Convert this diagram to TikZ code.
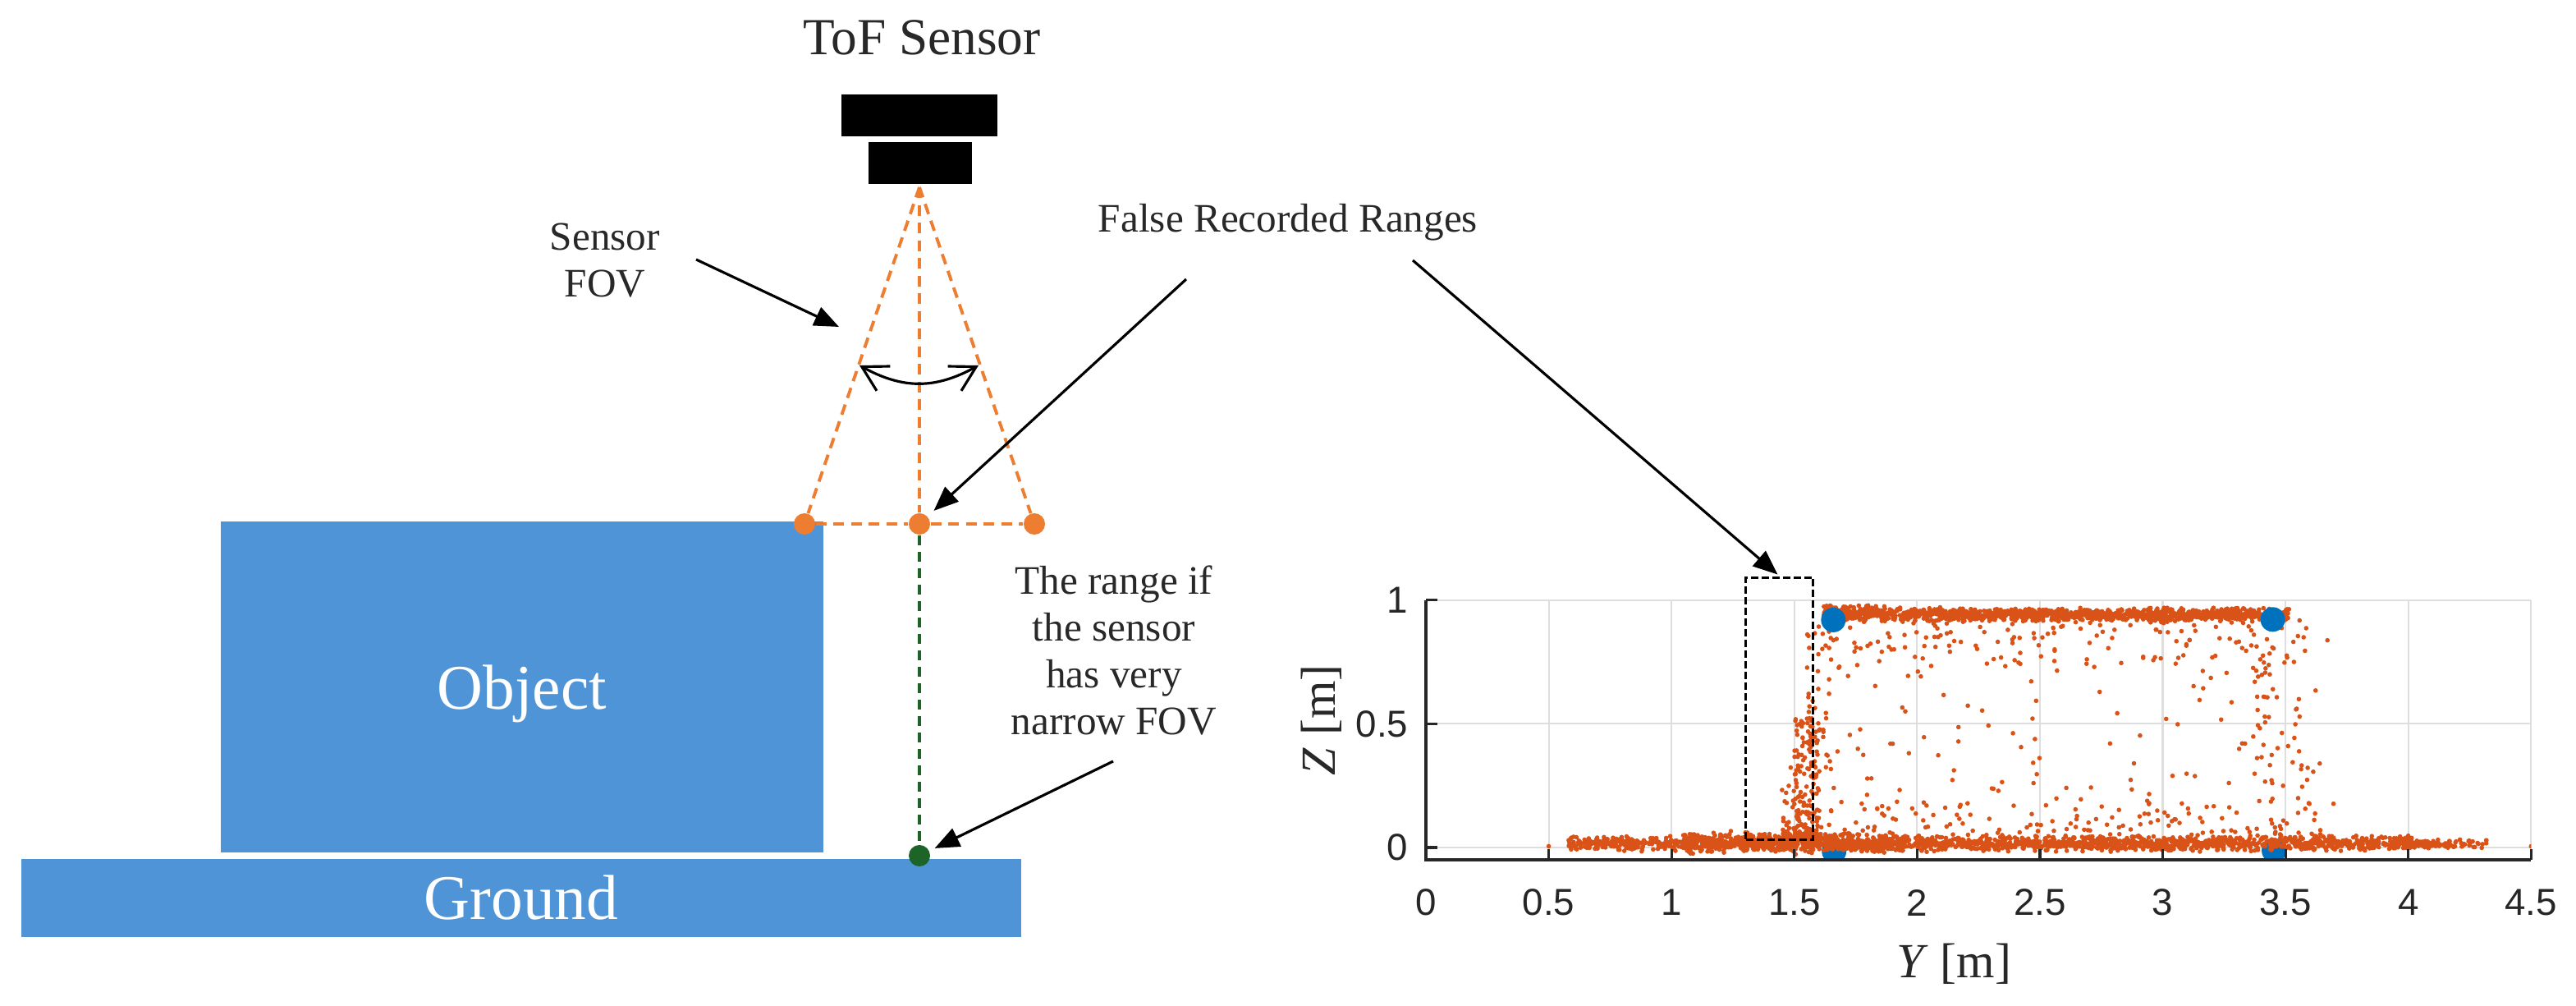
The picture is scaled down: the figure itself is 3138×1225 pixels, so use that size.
\documentclass[tikz,border=0pt]{standalone}
\usepackage{fontspec}
\setmainfont{Liberation Serif}
\newfontfamily\tickfont{Liberation Sans}
\usetikzlibrary{arrows.meta}
\definecolor{objblue}{RGB}{80,148,216}
\definecolor{fovorange}{RGB}{237,125,49}
\definecolor{rangegreen}{RGB}{28,100,40}
\definecolor{ptorange}{RGB}{217,83,25}
\definecolor{mblue}{RGB}{0,114,189}
\definecolor{gridgray}{RGB}{222,222,222}
\definecolor{axisgray}{RGB}{38,38,38}
\definecolor{txtgray}{RGB}{40,40,40}
\tikzset{
 sensorblk/.style={fill=black, inner sep=0pt},
 shapebox/.style={fill=objblue, inner sep=0pt, text=white, font=\fontsize{22}{26}\selectfont},
 odot/.style={circle, fill=fovorange, inner sep=0pt, minimum size=0.26cm},
 gdot/.style={circle, fill=rangegreen, inner sep=0pt, minimum size=0.26cm},
 fovdash/.style={draw=fovorange, line width=1.1pt, dash pattern=on 0.13cm off 0.085cm},
 greendash/.style={draw=rangegreen, line width=0.9pt, dash pattern=on 0.12cm off 0.08cm},
 callout/.style={draw=black, line width=0.9pt, -{Triangle[length=0.3cm,width=0.24cm]}},
 anglearrow/.style={draw=black, line width=0.9pt, {Straight Barb[length=0.3cm,width=0.34cm]}-{Straight Barb[length=0.3cm,width=0.34cm]}},
 lbl/.style={text=txtgray, inner sep=0pt, font=\fontsize{14}{16.2}\selectfont, align=center},
 ticklbl/.style={text=axisgray, inner sep=0pt, font=\tickfont\fontsize{13}{15}\selectfont},
 scatterpt/.style={fill=ptorange},
 gridln/.style={draw=gridgray, line width=0.6pt},
 axisln/.style={draw=axisgray, line width=0.9pt},
}
\begin{document}
\begin{tikzpicture}[x=0.01cm,y=-0.01cm]
\useasboundingbox (0,0) rectangle (3138,1225);
% ---------- left scene ----------
\node[lbl, anchor=base, font=\fontsize{18}{21}\selectfont] (toflbl) at (1123,67) {ToF Sensor};
\node[sensorblk, minimum width=1.90cm, minimum height=0.51cm] (senstop) at (1120,140.5) {};
\node[sensorblk, minimum width=1.26cm, minimum height=0.51cm] (sensbot) at (1121,198.5) {};
\coordinate (apex) at (1120,228);
\node[shapebox, minimum width=7.33cm, minimum height=4.03cm, text depth=0pt] (object) at (636,836.5) {Object};
\node[shapebox, minimum width=12.18cm, minimum height=0.94cm] (ground) at (635,1093.5) {Ground};
\node[odot] (ldot) at (980,638) {};
\node[odot] (mdot) at (1120,638) {};
\node[odot] (rdot) at (1260,638) {};
\node[gdot] (gdot) at (1120,1042) {};
\draw[fovdash] (apex) -- (ldot);
\draw[fovdash] (apex) -- (mdot);
\draw[fovdash] (apex) -- (rdot);
\draw[fovdash] (ldot) -- (mdot);
\draw[fovdash] (mdot) -- (rdot);
\draw[greendash] (mdot) -- (gdot);
% FOV angle
\coordinate (arcL) at (1047,445);
\coordinate (arcR) at (1192,445);
\draw[anglearrow] (arcL) .. controls (1100,474) and (1139,474) .. (arcR);
% labels
\node[lbl, anchor=north] (fovlbl) at (737,271) {Sensor\\FOV};
\node[lbl, anchor=base] (falselbl) at (1569,283) {False Recorded Ranges};
\node[lbl, anchor=north] (narrowlbl) at (1357,688) {The range if\\the sensor\\has very\\narrow FOV};
% callout arrows
\coordinate (fovA) at (848,316);
\coordinate (fovB) at (1022,398);
\draw[callout] (fovA) -- (fovB);
\coordinate (frA) at (1445,340);
\draw[callout, shorten >=0.1cm] (frA) -- (mdot);
\coordinate (frB) at (1721,317);
\coordinate (nfA) at (1356,927);
\draw[callout, shorten >=0.07cm] (nfA) -- (gdot);
% ---------- plot ----------
\coordinate (po) at (1737,1032);
\begin{scope}[shift={(po)}, x=2.99cm, y=3.01cm]
 \foreach \v in {0.5,1,1.5,2,2.5,3,3.5,4,4.5} {\draw[gridln] (\v,-0.05) -- (\v,1);}
 \foreach \v in {0,0.5,1} {\draw[gridln] (0,\v) -- (4.5,\v);}
 \begin{scope}
  \clip (0,-0.05) rectangle (4.5,1.0);
  \pgfmathsetseed{4242}
  \fill[mblue] (1.662,-0.015) circle[radius=0.15cm];
  \fill[mblue] (3.453,-0.012) circle[radius=0.15cm];
  % bottom band
  \fill[scatterpt] \foreach \i in {1,...,1700} {({0.57+3.45*rnd},{0.016+0.017*(rand+rand)}) circle[radius=0.8pt]};
  \fill[scatterpt] \foreach \i in {1,...,450} {({1.05+0.9*rnd},{0.02+0.024*(rand+rand)}) circle[radius=0.8pt]};
  \fill[scatterpt] \foreach \i in {1,...,90} {({4.0+0.32*rnd^1.5},{0.015+0.01*(rand+rand)}) circle[radius=0.8pt]};
  \fill[scatterpt] \foreach \i in {1,...,150} {({1.6+2.05*rnd},{0.04+0.16*rnd^2}) circle[radius=0.8pt]};
  % top band
  \fill[scatterpt] \foreach \i in {1,...,1100} {({1.62+1.9*rnd},{0.942+0.015*(rand+rand)}) circle[radius=0.8pt]};
  \fill[scatterpt] \foreach \i in {1,...,170} {({1.62+1.95*rnd},{0.93-0.2*rnd^2}) circle[radius=0.8pt]};
  \fill[scatterpt] \foreach \i in {1,...,40} {({1.62+0.25*rnd},{0.95+0.03*rnd}) circle[radius=0.8pt]};
  % interior sparse
  \fill[scatterpt] \foreach \i in {1,...,130} {({1.65+1.95*rnd},{0.05+0.85*rnd}) circle[radius=0.8pt]};
  % right edge
  \fill[scatterpt] \foreach \i in {1,...,60} {({3.36+0.34*rnd^1.3},{0.05+0.85*rnd}) circle[radius=0.8pt]};
  % false ranges column
  \fill[scatterpt] \foreach \i in {1,...,150} {({1.50+0.1*rnd},{0.03+0.5*rnd^2}) circle[radius=0.8pt]};
  \fill[scatterpt] \foreach \i in {1,...,50} {({1.55+0.1*rnd},{0.3+0.6*rnd}) circle[radius=0.8pt]};
  \fill[scatterpt] \foreach \i in {1,...,70} {({1.45+0.12*rnd},{0.03+0.3*rnd^3}) circle[radius=0.8pt]};
  % stray points
  \fill[scatterpt] (0,1) circle[radius=0.8pt] (0.5,0.005) circle[radius=0.8pt] (4.5,0.005) circle[radius=0.8pt];
  % blue markers on top
  \fill[mblue] (1.659,0.92) circle[radius=0.15cm];
  \fill[mblue] (3.448,0.922) circle[radius=0.15cm];
 \end{scope}
 \draw[axisln] (0,1) -- (0,-0.05) -- (4.5,-0.05);
 \foreach \v in {0,0.5,1} {\draw[axisln] (0,\v) -- ++(0.14cm,0);}
 \foreach \v in {0.5,1,1.5,2,2.5,3,3.5,4,4.5} {\draw[axisln] (\v,-0.05) -- ++(0,0.13cm);}
 \foreach \v [count=\k] in {0,0.5,1} {\node[ticklbl, anchor=east, xshift=-0.21cm] (ytick\k) at (0,\v) {\v};}
 \foreach \v [count=\k] in {0,0.5,1,1.5,2,2.5,3,3.5,4,4.5} {\node[ticklbl, yshift=-0.52cm] (xtick\k) at (\v,-0.05) {\v};}
 \node[draw=black, line width=0.9pt, dash pattern=on 0.09cm off 0.04cm, minimum width=0.82cm, minimum height=3.19cm, inner sep=0pt] (fbox) at (1.44,0.562) {};
\end{scope}
\draw[callout, shorten >=0.03cm] (frB) -- (fbox.north);
\node[anchor=base, text=txtgray, inner sep=0pt, font=\fontsize{17}{20}\selectfont] (ylbl) at (2380,1190) {\textit{Y} [m]};
\node[rotate=90, text=txtgray, inner sep=0pt, font=\fontsize{17}{20}\selectfont] (zlbl) at (1610,877) {\textit{Z} [m]};
\end{tikzpicture}
\end{document}
